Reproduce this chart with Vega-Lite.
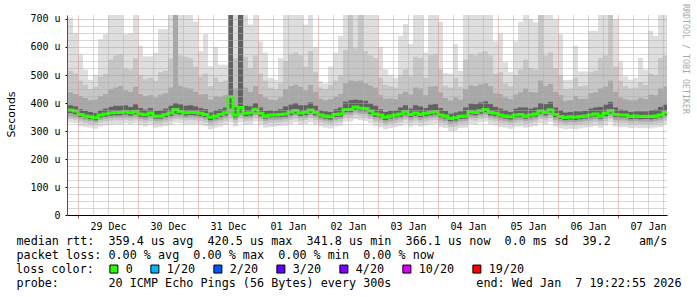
{
"$schema": "https://vega.github.io/schema/vega-lite/v6.json",
"width": 600, "height": 200,
"autosize": "none",
"padding": {"left": 67, "top": 15, "right": 30, "bottom": 82},
"background": "#ffffff",
"config": {"view": {"stroke": null}},
"title": {"text": "RRDTOOL / TOBI OETIKER", "orient": "right", "anchor": "start", "angle": 90, "offset": 1, "dx": -10, "font": "DejaVu Sans Mono", "fontSize": 8.3, "fontWeight": "normal", "color": "#a8a8a8"},
"data": {"values": [
{"t":"2025-12-28T18:00","t2":"2025-12-28T20:00","loss":"0","med":375,"a0":332,"b0":344,"c0":352,"d0":364,"d1":392,"c1":440,"b1":520,"a1":705},
{"t":"2025-12-28T20:00","t2":"2025-12-28T22:00","loss":"0","med":375,"a0":330,"b0":343,"c0":352,"d0":364,"d1":392,"c1":438,"b1":515,"a1":705},
{"t":"2025-12-28T22:00","t2":"2025-12-29T00:00","loss":"0","med":371,"a0":328,"b0":340,"c0":349,"d0":360,"d1":388,"c1":432,"b1":505,"a1":650},
{"t":"2025-12-29T00:00","t2":"2025-12-29T02:00","loss":"0","med":359,"a0":318,"b0":332,"c0":342,"d0":350,"d1":378,"c1":425,"b1":480,"a1":573},
{"t":"2025-12-29T02:00","t2":"2025-12-29T04:00","loss":"0","med":354,"a0":314,"b0":328,"c0":338,"d0":346,"d1":372,"c1":418,"b1":465,"a1":519},
{"t":"2025-12-29T04:00","t2":"2025-12-29T06:00","loss":"0","med":351,"a0":312,"b0":325,"c0":335,"d0":342,"d1":368,"c1":410,"b1":450,"a1":483},
{"t":"2025-12-29T06:00","t2":"2025-12-29T08:00","loss":"0","med":347,"a0":308,"b0":322,"c0":332,"d0":338,"d1":364,"c1":412,"b1":458,"a1":501},
{"t":"2025-12-29T08:00","t2":"2025-12-29T10:00","loss":"0","med":357,"a0":316,"b0":330,"c0":340,"d0":347,"d1":374,"c1":425,"b1":495,"a1":628},
{"t":"2025-12-29T10:00","t2":"2025-12-29T12:00","loss":"0","med":361,"a0":320,"b0":334,"c0":344,"d0":351,"d1":380,"c1":432,"b1":505,"a1":646},
{"t":"2025-12-29T12:00","t2":"2025-12-29T14:00","loss":"0","med":364,"a0":322,"b0":336,"c0":346,"d0":354,"d1":386,"c1":450,"b1":555,"a1":800},
{"t":"2025-12-29T14:00","t2":"2025-12-29T16:00","loss":"0","med":366,"a0":325,"b0":338,"c0":348,"d0":356,"d1":390,"c1":455,"b1":570,"a1":800},
{"t":"2025-12-29T16:00","t2":"2025-12-29T18:00","loss":"0","med":366,"a0":324,"b0":338,"c0":348,"d0":356,"d1":390,"c1":460,"b1":575,"a1":800},
{"t":"2025-12-29T18:00","t2":"2025-12-29T20:00","loss":"0","med":369,"a0":328,"b0":340,"c0":350,"d0":359,"d1":392,"c1":445,"b1":525,"a1":646},
{"t":"2025-12-29T20:00","t2":"2025-12-29T22:00","loss":"0","med":365,"a0":324,"b0":337,"c0":347,"d0":355,"d1":386,"c1":440,"b1":520,"a1":650},
{"t":"2025-12-29T22:00","t2":"2025-12-30T00:00","loss":"0","med":370,"a0":328,"b0":341,"c0":351,"d0":360,"d1":395,"c1":458,"b1":560,"a1":800},
{"t":"2025-12-30T00:00","t2":"2025-12-30T02:00","loss":"0","med":361,"a0":320,"b0":334,"c0":343,"d0":351,"d1":382,"c1":432,"b1":500,"a1":604},
{"t":"2025-12-30T02:00","t2":"2025-12-30T04:00","loss":"0","med":358,"a0":316,"b0":330,"c0":340,"d0":348,"d1":376,"c1":425,"b1":485,"a1":567},
{"t":"2025-12-30T04:00","t2":"2025-12-30T06:00","loss":"0","med":364,"a0":322,"b0":335,"c0":345,"d0":354,"d1":382,"c1":428,"b1":490,"a1":567},
{"t":"2025-12-30T06:00","t2":"2025-12-30T08:00","loss":"0","med":354,"a0":312,"b0":326,"c0":336,"d0":344,"d1":372,"c1":420,"b1":480,"a1":580},
{"t":"2025-12-30T08:00","t2":"2025-12-30T10:00","loss":"0","med":354,"a0":314,"b0":327,"c0":337,"d0":344,"d1":374,"c1":430,"b1":510,"a1":664},
{"t":"2025-12-30T10:00","t2":"2025-12-30T12:00","loss":"0","med":359,"a0":318,"b0":331,"c0":341,"d0":349,"d1":380,"c1":435,"b1":515,"a1":664},
{"t":"2025-12-30T12:00","t2":"2025-12-30T14:00","loss":"0","med":364,"a0":322,"b0":336,"c0":346,"d0":354,"d1":390,"c1":455,"b1":560,"a1":800},
{"t":"2025-12-30T14:00","t2":"2025-12-30T16:00","loss":"0","med":377,"a0":330,"b0":342,"c0":352,"d0":362,"d1":400,"c1":800,"b1":800,"a1":800},
{"t":"2025-12-30T16:00","t2":"2025-12-30T18:00","loss":"0","med":370,"a0":328,"b0":341,"c0":351,"d0":360,"d1":395,"c1":460,"b1":570,"a1":800},
{"t":"2025-12-30T18:00","t2":"2025-12-30T20:00","loss":"0","med":365,"a0":324,"b0":337,"c0":347,"d0":355,"d1":390,"c1":455,"b1":565,"a1":800},
{"t":"2025-12-30T20:00","t2":"2025-12-30T22:00","loss":"0","med":367,"a0":325,"b0":339,"c0":349,"d0":357,"d1":392,"c1":452,"b1":560,"a1":800},
{"t":"2025-12-30T22:00","t2":"2025-12-31T00:00","loss":"0","med":366,"a0":325,"b0":338,"c0":348,"d0":356,"d1":388,"c1":440,"b1":530,"a1":690},
{"t":"2025-12-31T00:00","t2":"2025-12-31T02:00","loss":"0","med":363,"a0":322,"b0":335,"c0":345,"d0":353,"d1":382,"c1":430,"b1":495,"a1":585},
{"t":"2025-12-31T02:00","t2":"2025-12-31T04:00","loss":"0","med":359,"a0":318,"b0":331,"c0":341,"d0":349,"d1":378,"c1":432,"b1":505,"a1":646},
{"t":"2025-12-31T04:00","t2":"2025-12-31T06:00","loss":"0","med":349,"a0":306,"b0":320,"c0":331,"d0":339,"d1":366,"c1":412,"b1":460,"a1":531},
{"t":"2025-12-31T06:00","t2":"2025-12-31T08:00","loss":"0","med":354,"a0":312,"b0":326,"c0":336,"d0":344,"d1":374,"c1":425,"b1":490,"a1":600},
{"t":"2025-12-31T08:00","t2":"2025-12-31T10:00","loss":"0","med":359,"a0":316,"b0":330,"c0":340,"d0":349,"d1":378,"c1":422,"b1":475,"a1":537},
{"t":"2025-12-31T10:00","t2":"2025-12-31T12:00","loss":"0","med":365,"a0":322,"b0":336,"c0":346,"d0":355,"d1":384,"c1":428,"b1":480,"a1":537},
{"t":"2025-12-31T12:00","t2":"2025-12-31T14:00","loss":"0","med":422,"a0":330,"b0":345,"c0":360,"d0":380,"d1":800,"c1":800,"b1":800,"a1":800},
{"t":"2025-12-31T14:00","t2":"2025-12-31T16:00","loss":"0","med":357,"a0":316,"b0":330,"c0":340,"d0":347,"d1":384,"c1":452,"b1":560,"a1":800},
{"t":"2025-12-31T16:00","t2":"2025-12-31T18:00","loss":"0","med":384,"a0":330,"b0":345,"c0":355,"d0":365,"d1":800,"c1":800,"b1":800,"a1":800},
{"t":"2025-12-31T18:00","t2":"2025-12-31T20:00","loss":"0","med":363,"a0":322,"b0":335,"c0":345,"d0":353,"d1":390,"c1":455,"b1":565,"a1":800},
{"t":"2025-12-31T20:00","t2":"2025-12-31T22:00","loss":"0","med":365,"a0":324,"b0":337,"c0":347,"d0":355,"d1":388,"c1":440,"b1":525,"a1":680},
{"t":"2025-12-31T22:00","t2":"2026-01-01T00:00","loss":"0","med":378,"a0":334,"b0":347,"c0":357,"d0":367,"d1":400,"c1":460,"b1":570,"a1":800},
{"t":"2026-01-01T00:00","t2":"2026-01-01T02:00","loss":"0","med":363,"a0":322,"b0":335,"c0":345,"d0":353,"d1":384,"c1":432,"b1":505,"a1":620},
{"t":"2026-01-01T02:00","t2":"2026-01-01T04:00","loss":"0","med":354,"a0":312,"b0":326,"c0":336,"d0":344,"d1":372,"c1":420,"b1":480,"a1":580},
{"t":"2026-01-01T04:00","t2":"2026-01-01T06:00","loss":"0","med":357,"a0":315,"b0":329,"c0":339,"d0":347,"d1":374,"c1":412,"b1":455,"a1":490},
{"t":"2026-01-01T06:00","t2":"2026-01-01T08:00","loss":"0","med":357,"a0":316,"b0":330,"c0":340,"d0":347,"d1":372,"c1":410,"b1":450,"a1":483},
{"t":"2026-01-01T08:00","t2":"2026-01-01T10:00","loss":"0","med":359,"a0":318,"b0":331,"c0":341,"d0":349,"d1":378,"c1":420,"b1":470,"a1":560},
{"t":"2026-01-01T10:00","t2":"2026-01-01T12:00","loss":"0","med":361,"a0":320,"b0":333,"c0":343,"d0":351,"d1":388,"c1":450,"b1":550,"a1":800},
{"t":"2026-01-01T12:00","t2":"2026-01-01T14:00","loss":"0","med":367,"a0":325,"b0":339,"c0":349,"d0":357,"d1":394,"c1":460,"b1":575,"a1":800},
{"t":"2026-01-01T14:00","t2":"2026-01-01T16:00","loss":"0","med":373,"a0":330,"b0":344,"c0":354,"d0":363,"d1":400,"c1":465,"b1":580,"a1":800},
{"t":"2026-01-01T16:00","t2":"2026-01-01T18:00","loss":"0","med":364,"a0":322,"b0":336,"c0":346,"d0":354,"d1":392,"c1":458,"b1":570,"a1":800},
{"t":"2026-01-01T18:00","t2":"2026-01-01T20:00","loss":"0","med":367,"a0":325,"b0":339,"c0":349,"d0":357,"d1":392,"c1":445,"b1":530,"a1":680},
{"t":"2026-01-01T20:00","t2":"2026-01-01T22:00","loss":"0","med":375,"a0":332,"b0":346,"c0":356,"d0":365,"d1":402,"c1":465,"b1":585,"a1":800},
{"t":"2026-01-01T22:00","t2":"2026-01-02T00:00","loss":"0","med":366,"a0":324,"b0":338,"c0":348,"d0":356,"d1":390,"c1":440,"b1":510,"a1":600},
{"t":"2026-01-02T00:00","t2":"2026-01-02T02:00","loss":"0","med":357,"a0":316,"b0":330,"c0":340,"d0":347,"d1":374,"c1":415,"b1":455,"a1":478},
{"t":"2026-01-02T02:00","t2":"2026-01-02T04:00","loss":"0","med":354,"a0":312,"b0":327,"c0":337,"d0":344,"d1":370,"c1":410,"b1":450,"a1":470},
{"t":"2026-01-02T04:00","t2":"2026-01-02T06:00","loss":"0","med":351,"a0":309,"b0":324,"c0":334,"d0":341,"d1":368,"c1":414,"b1":465,"a1":530},
{"t":"2026-01-02T06:00","t2":"2026-01-02T08:00","loss":"0","med":359,"a0":316,"b0":330,"c0":340,"d0":349,"d1":378,"c1":422,"b1":480,"a1":580},
{"t":"2026-01-02T08:00","t2":"2026-01-02T10:00","loss":"0","med":361,"a0":319,"b0":333,"c0":343,"d0":351,"d1":384,"c1":432,"b1":500,"a1":640},
{"t":"2026-01-02T10:00","t2":"2026-01-02T12:00","loss":"0","med":377,"a0":334,"b0":348,"c0":358,"d0":367,"d1":405,"c1":470,"b1":590,"a1":800},
{"t":"2026-01-02T12:00","t2":"2026-01-02T14:00","loss":"0","med":377,"a0":334,"b0":348,"c0":358,"d0":367,"d1":410,"c1":480,"b1":800,"a1":800},
{"t":"2026-01-02T14:00","t2":"2026-01-02T16:00","loss":"0","med":386,"a0":342,"b0":356,"c0":366,"d0":376,"d1":412,"c1":478,"b1":595,"a1":800},
{"t":"2026-01-02T16:00","t2":"2026-01-02T18:00","loss":"0","med":381,"a0":338,"b0":352,"c0":362,"d0":371,"d1":410,"c1":480,"b1":800,"a1":800},
{"t":"2026-01-02T18:00","t2":"2026-01-02T20:00","loss":"0","med":380,"a0":336,"b0":350,"c0":360,"d0":370,"d1":408,"c1":470,"b1":585,"a1":800},
{"t":"2026-01-02T20:00","t2":"2026-01-02T22:00","loss":"0","med":371,"a0":328,"b0":342,"c0":352,"d0":361,"d1":398,"c1":462,"b1":570,"a1":800},
{"t":"2026-01-02T22:00","t2":"2026-01-03T00:00","loss":"0","med":361,"a0":318,"b0":332,"c0":342,"d0":351,"d1":390,"c1":455,"b1":560,"a1":800},
{"t":"2026-01-03T00:00","t2":"2026-01-03T02:00","loss":"0","med":357,"a0":314,"b0":328,"c0":338,"d0":347,"d1":378,"c1":428,"b1":490,"a1":600},
{"t":"2026-01-03T02:00","t2":"2026-01-03T04:00","loss":"0","med":349,"a0":306,"b0":320,"c0":330,"d0":339,"d1":368,"c1":415,"b1":465,"a1":520},
{"t":"2026-01-03T04:00","t2":"2026-01-03T06:00","loss":"0","med":354,"a0":310,"b0":324,"c0":334,"d0":344,"d1":372,"c1":416,"b1":460,"a1":501},
{"t":"2026-01-03T06:00","t2":"2026-01-03T08:00","loss":"0","med":357,"a0":314,"b0":328,"c0":338,"d0":347,"d1":374,"c1":414,"b1":455,"a1":490},
{"t":"2026-01-03T08:00","t2":"2026-01-03T10:00","loss":"0","med":361,"a0":318,"b0":332,"c0":342,"d0":351,"d1":384,"c1":432,"b1":500,"a1":640},
{"t":"2026-01-03T10:00","t2":"2026-01-03T12:00","loss":"0","med":369,"a0":326,"b0":340,"c0":350,"d0":359,"d1":392,"c1":440,"b1":520,"a1":682},
{"t":"2026-01-03T12:00","t2":"2026-01-03T14:00","loss":"0","med":359,"a0":316,"b0":330,"c0":340,"d0":349,"d1":380,"c1":430,"b1":495,"a1":610},
{"t":"2026-01-03T14:00","t2":"2026-01-03T16:00","loss":"0","med":364,"a0":322,"b0":336,"c0":346,"d0":354,"d1":392,"c1":455,"b1":565,"a1":800},
{"t":"2026-01-03T16:00","t2":"2026-01-03T18:00","loss":"0","med":359,"a0":316,"b0":330,"c0":340,"d0":349,"d1":388,"c1":452,"b1":560,"a1":800},
{"t":"2026-01-03T18:00","t2":"2026-01-03T20:00","loss":"0","med":363,"a0":320,"b0":334,"c0":344,"d0":353,"d1":382,"c1":428,"b1":490,"a1":580},
{"t":"2026-01-03T20:00","t2":"2026-01-03T22:00","loss":"0","med":366,"a0":324,"b0":338,"c0":348,"d0":356,"d1":394,"c1":458,"b1":570,"a1":800},
{"t":"2026-01-03T22:00","t2":"2026-01-04T00:00","loss":"0","med":369,"a0":326,"b0":340,"c0":350,"d0":359,"d1":396,"c1":460,"b1":575,"a1":800},
{"t":"2026-01-04T00:00","t2":"2026-01-04T02:00","loss":"0","med":357,"a0":314,"b0":328,"c0":338,"d0":347,"d1":382,"c1":438,"b1":520,"a1":690},
{"t":"2026-01-04T02:00","t2":"2026-01-04T04:00","loss":"0","med":354,"a0":310,"b0":324,"c0":334,"d0":344,"d1":372,"c1":418,"b1":462,"a1":507},
{"t":"2026-01-04T04:00","t2":"2026-01-04T06:00","loss":"0","med":345,"a0":300,"b0":314,"c0":326,"d0":335,"d1":362,"c1":408,"b1":455,"a1":505},
{"t":"2026-01-04T06:00","t2":"2026-01-04T08:00","loss":"0","med":347,"a0":302,"b0":316,"c0":328,"d0":337,"d1":366,"c1":420,"b1":490,"a1":610},
{"t":"2026-01-04T08:00","t2":"2026-01-04T10:00","loss":"0","med":353,"a0":310,"b0":324,"c0":334,"d0":343,"d1":370,"c1":412,"b1":458,"a1":515},
{"t":"2026-01-04T10:00","t2":"2026-01-04T12:00","loss":"0","med":354,"a0":312,"b0":326,"c0":336,"d0":344,"d1":384,"c1":450,"b1":555,"a1":800},
{"t":"2026-01-04T12:00","t2":"2026-01-04T14:00","loss":"0","med":369,"a0":326,"b0":340,"c0":350,"d0":359,"d1":398,"c1":462,"b1":575,"a1":800},
{"t":"2026-01-04T14:00","t2":"2026-01-04T16:00","loss":"0","med":366,"a0":323,"b0":337,"c0":347,"d0":356,"d1":396,"c1":460,"b1":570,"a1":800},
{"t":"2026-01-04T16:00","t2":"2026-01-04T18:00","loss":"0","med":372,"a0":330,"b0":344,"c0":354,"d0":362,"d1":402,"c1":466,"b1":580,"a1":800},
{"t":"2026-01-04T18:00","t2":"2026-01-04T20:00","loss":"0","med":377,"a0":334,"b0":348,"c0":358,"d0":367,"d1":406,"c1":470,"b1":585,"a1":800},
{"t":"2026-01-04T20:00","t2":"2026-01-04T22:00","loss":"0","med":366,"a0":324,"b0":338,"c0":348,"d0":356,"d1":396,"c1":460,"b1":570,"a1":800},
{"t":"2026-01-04T22:00","t2":"2026-01-05T00:00","loss":"0","med":363,"a0":320,"b0":334,"c0":344,"d0":353,"d1":386,"c1":435,"b1":505,"a1":620},
{"t":"2026-01-05T00:00","t2":"2026-01-05T02:00","loss":"0","med":357,"a0":314,"b0":328,"c0":338,"d0":347,"d1":380,"c1":432,"b1":510,"a1":650},
{"t":"2026-01-05T02:00","t2":"2026-01-05T04:00","loss":"0","med":354,"a0":312,"b0":326,"c0":336,"d0":344,"d1":374,"c1":420,"b1":470,"a1":545},
{"t":"2026-01-05T04:00","t2":"2026-01-05T06:00","loss":"0","med":351,"a0":308,"b0":322,"c0":332,"d0":341,"d1":368,"c1":414,"b1":460,"a1":510},
{"t":"2026-01-05T06:00","t2":"2026-01-05T08:00","loss":"0","med":357,"a0":314,"b0":328,"c0":338,"d0":347,"d1":380,"c1":430,"b1":500,"a1":620},
{"t":"2026-01-05T08:00","t2":"2026-01-05T10:00","loss":"0","med":359,"a0":316,"b0":330,"c0":340,"d0":349,"d1":384,"c1":438,"b1":520,"a1":690},
{"t":"2026-01-05T10:00","t2":"2026-01-05T12:00","loss":"0","med":354,"a0":312,"b0":326,"c0":336,"d0":344,"d1":384,"c1":452,"b1":555,"a1":800},
{"t":"2026-01-05T12:00","t2":"2026-01-05T14:00","loss":"0","med":357,"a0":314,"b0":328,"c0":338,"d0":347,"d1":380,"c1":440,"b1":525,"a1":700},
{"t":"2026-01-05T14:00","t2":"2026-01-05T16:00","loss":"0","med":361,"a0":318,"b0":332,"c0":342,"d0":351,"d1":384,"c1":438,"b1":520,"a1":688},
{"t":"2026-01-05T16:00","t2":"2026-01-05T18:00","loss":"0","med":371,"a0":328,"b0":342,"c0":352,"d0":361,"d1":400,"c1":480,"b1":800,"a1":800},
{"t":"2026-01-05T18:00","t2":"2026-01-05T20:00","loss":"0","med":366,"a0":324,"b0":338,"c0":348,"d0":356,"d1":396,"c1":460,"b1":570,"a1":800},
{"t":"2026-01-05T20:00","t2":"2026-01-05T22:00","loss":"0","med":376,"a0":332,"b0":346,"c0":356,"d0":366,"d1":404,"c1":468,"b1":580,"a1":800},
{"t":"2026-01-05T22:00","t2":"2026-01-06T00:00","loss":"0","med":359,"a0":316,"b0":330,"c0":340,"d0":349,"d1":384,"c1":440,"b1":525,"a1":700},
{"t":"2026-01-06T00:00","t2":"2026-01-06T02:00","loss":"0","med":352,"a0":310,"b0":324,"c0":334,"d0":343,"d1":374,"c1":428,"b1":500,"a1":646},
{"t":"2026-01-06T02:00","t2":"2026-01-06T04:00","loss":"0","med":348,"a0":306,"b0":320,"c0":330,"d0":339,"d1":366,"c1":408,"b1":450,"a1":483},
{"t":"2026-01-06T04:00","t2":"2026-01-06T06:00","loss":"0","med":351,"a0":308,"b0":322,"c0":332,"d0":341,"d1":368,"c1":410,"b1":452,"a1":483},
{"t":"2026-01-06T06:00","t2":"2026-01-06T08:00","loss":"0","med":349,"a0":306,"b0":320,"c0":330,"d0":339,"d1":370,"c1":425,"b1":490,"a1":604},
{"t":"2026-01-06T08:00","t2":"2026-01-06T10:00","loss":"0","med":352,"a0":309,"b0":323,"c0":333,"d0":342,"d1":370,"c1":414,"b1":460,"a1":513},
{"t":"2026-01-06T10:00","t2":"2026-01-06T12:00","loss":"0","med":354,"a0":312,"b0":326,"c0":336,"d0":344,"d1":372,"c1":415,"b1":462,"a1":513},
{"t":"2026-01-06T12:00","t2":"2026-01-06T14:00","loss":"0","med":357,"a0":314,"b0":328,"c0":338,"d0":347,"d1":380,"c1":435,"b1":510,"a1":658},
{"t":"2026-01-06T14:00","t2":"2026-01-06T16:00","loss":"0","med":361,"a0":318,"b0":332,"c0":342,"d0":351,"d1":384,"c1":438,"b1":515,"a1":658},
{"t":"2026-01-06T16:00","t2":"2026-01-06T18:00","loss":"0","med":354,"a0":312,"b0":326,"c0":336,"d0":344,"d1":386,"c1":452,"b1":560,"a1":800},
{"t":"2026-01-06T18:00","t2":"2026-01-06T20:00","loss":"0","med":363,"a0":320,"b0":334,"c0":344,"d0":353,"d1":394,"c1":458,"b1":570,"a1":800},
{"t":"2026-01-06T20:00","t2":"2026-01-06T22:00","loss":"0","med":373,"a0":330,"b0":344,"c0":354,"d0":363,"d1":404,"c1":480,"b1":800,"a1":800},
{"t":"2026-01-06T22:00","t2":"2026-01-07T00:00","loss":"0","med":359,"a0":316,"b0":330,"c0":340,"d0":349,"d1":384,"c1":440,"b1":530,"a1":700},
{"t":"2026-01-07T00:00","t2":"2026-01-07T02:00","loss":"0","med":357,"a0":314,"b0":328,"c0":338,"d0":347,"d1":376,"c1":420,"b1":480,"a1":549},
{"t":"2026-01-07T02:00","t2":"2026-01-07T04:00","loss":"0","med":357,"a0":314,"b0":328,"c0":338,"d0":347,"d1":374,"c1":414,"b1":460,"a1":495},
{"t":"2026-01-07T04:00","t2":"2026-01-07T06:00","loss":"0","med":352,"a0":310,"b0":324,"c0":334,"d0":342,"d1":368,"c1":410,"b1":452,"a1":483},
{"t":"2026-01-07T06:00","t2":"2026-01-07T08:00","loss":"0","med":354,"a0":312,"b0":326,"c0":336,"d0":344,"d1":370,"c1":410,"b1":455,"a1":489},
{"t":"2026-01-07T08:00","t2":"2026-01-07T10:00","loss":"0","med":352,"a0":310,"b0":324,"c0":334,"d0":342,"d1":370,"c1":418,"b1":475,"a1":561},
{"t":"2026-01-07T10:00","t2":"2026-01-07T12:00","loss":"0","med":353,"a0":310,"b0":324,"c0":334,"d0":343,"d1":370,"c1":414,"b1":465,"a1":519},
{"t":"2026-01-07T12:00","t2":"2026-01-07T14:00","loss":"0","med":352,"a0":309,"b0":323,"c0":333,"d0":342,"d1":374,"c1":430,"b1":505,"a1":658},
{"t":"2026-01-07T14:00","t2":"2026-01-07T16:00","loss":"0","med":354,"a0":312,"b0":326,"c0":336,"d0":344,"d1":376,"c1":428,"b1":500,"a1":640},
{"t":"2026-01-07T16:00","t2":"2026-01-07T18:00","loss":"0","med":357,"a0":314,"b0":328,"c0":338,"d0":347,"d1":386,"c1":452,"b1":560,"a1":800},
{"t":"2026-01-07T18:00","t2":"2026-01-07T20:00","loss":"0","med":366,"a0":323,"b0":337,"c0":347,"d0":356,"d1":394,"c1":458,"b1":570,"a1":800}
]},
"layer": [
{"mark": {"type": "rect", "fill": "#dedede", "clip": true},
 "encoding": {
  "x": {"field": "t", "type": "temporal",
        "scale": {"domain": [{"year": 2025, "month": 12, "date": 28, "hours": 19, "minutes": 36}, {"year": 2026, "month": 1, "date": 7, "hours": 19, "minutes": 36}]},
        "axis": {"orient": "bottom", "tickCount": 40,
                 "grid": true, "gridColor": {"condition": {"test": "hours(datum.value) == 0", "value": "#e08888"}, "value": "#b0b0b0"}, "gridDash": [1, 1],
                 "ticks": true, "tickSize": 3, "tickColor": "#d06060", "tickOpacity": {"condition": {"test": "hours(datum.value) == 0", "value": 1}, "value": 0},
                 "labelExpr": "hours(datum.value) == 12 ? timeFormat(datum.value, '%d %b') : ''",
                 "labelFont": "DejaVu Sans Mono", "labelFontSize": 10, "labelColor": "#000000", "labelPadding": 3, "labelFlush": false, "labelOverlap": false,
                 "domain": true, "domainColor": "#000000",
                 "title": ["median\u00a0rtt:\u00a0\u00a0359.4\u00a0us\u00a0avg\u00a0\u00a0420.5\u00a0us\u00a0max\u00a0\u00a0341.8\u00a0us\u00a0min\u00a0\u00a0366.1\u00a0us\u00a0now\u00a0\u00a00.0\u00a0ms\u00a0sd\u00a0\u00a039.2\u00a0\u00a0\u00a0\u00a0am/s",
                           "packet\u00a0loss:\u00a00.00\u00a0%\u00a0avg\u00a0\u00a00.00\u00a0%\u00a0max\u00a0\u00a00.00\u00a0%\u00a0min\u00a0\u00a00.00\u00a0%\u00a0now",
                           "\u200b",
                           "probe:\u00a0\u00a0\u00a0\u00a0\u00a0\u00a0\u00a020\u00a0ICMP\u00a0Echo\u00a0Pings\u00a0(56\u00a0Bytes)\u00a0every\u00a0300s\u00a0\u00a0\u00a0\u00a0\u00a0\u00a0\u00a0\u00a0\u00a0\u00a0\u00a0\u00a0end:\u00a0Wed\u00a0Jan\u00a0\u00a07\u00a019:22:55\u00a02026"],
                 "titleFont": "DejaVu Sans Mono", "titleFontSize": 11.76, "titleFontWeight": "normal", "titleColor": "#000000", "titleX": -51, "titleY": 20, "titleAlign": "left", "titleAnchor": "start", "titleBaseline": "top", "titleLineHeight": 14, "titleLimit": 1000,
                 "zindex": 1}},
  "x2": {"field": "t2"},
  "y": {"field": "a0", "type": "quantitative", "scale": {"domain": [0, 714.2857], "nice": false},
        "axis": {"orient": "left", "tickCount": 100, "values": [0,25,50,75,100,125,150,175,200,225,250,275,300,325,350,375,400,425,450,475,500,525,550,575,600,625,650,675,700],
                 "grid": true, "gridColor": {"condition": {"test": "datum.value % 100 == 0", "value": "#e08888"}, "value": "#b0b0b0"}, "gridDash": [1, 1],
                 "labelExpr": "datum.value % 100 == 0 ? (datum.value == 0 ? '0' : datum.value + ' u') : ''",
                 "labelFont": "DejaVu Sans Mono", "labelFontSize": 10, "labelColor": "#000000", "labelPadding": 5, "labelOverlap": false,
                 "ticks": true, "tickSize": 2, "tickColor": "#000000", "tickOpacity": {"condition": {"test": "datum.value % 100 == 0", "value": 1}, "value": 0},
                 "domain": true, "domainColor": "#555555",
                 "title": "Seconds", "titleFont": "DejaVu Sans", "titleFontSize": 11, "titleFontWeight": "normal", "titleColor": "#000000", "titleX": -56, "titleY": 99, "titleAngle": -90, "titleAlign": "center", "titleBaseline": "middle",
                 "zindex": 1}},
  "y2": {"field": "a1"}
 }},
{"mark": {"type": "rect", "fill": "#c6c6c6", "clip": true},
 "encoding": {
  "x": {"field": "t", "type": "temporal"},
  "x2": {"field": "t2"},
  "y": {"field": "b0", "type": "quantitative"},
  "y2": {"field": "b1"}
 }},
{"mark": {"type": "rect", "fill": "#a8a8a8", "clip": true},
 "encoding": {
  "x": {"field": "t", "type": "temporal"},
  "x2": {"field": "t2"},
  "y": {"field": "c0", "type": "quantitative"},
  "y2": {"field": "c1"}
 }},
{"mark": {"type": "rect", "fill": "#626262", "clip": true},
 "encoding": {
  "x": {"field": "t", "type": "temporal"},
  "x2": {"field": "t2"},
  "y": {"field": "d0", "type": "quantitative"},
  "y2": {"field": "d1"}
 }},
{"mark": {"type": "line", "interpolate": "step-before", "strokeWidth": 3, "color": "#26ff00", "clip": true},
 "encoding": {
  "x": {"field": "t2", "type": "temporal"},
  "y": {"field": "med", "type": "quantitative"}
 }},
{"mark": {"type": "rect", "clip": true},
 "encoding": {
  "x": {"field": "t", "type": "temporal"},
  "x2": {"field": "t2"},
  "y": {"field": "med", "type": "quantitative"},
  "y2": {"field": "med"},
  "color": {"field": "loss", "type": "nominal",
            "scale": {"domain": ["0", "1/20", "2/20", "3/20", "4/20", "10/20", "19/20"], "range": ["#26ff00", "#00b8ff", "#0059ff", "#5e00ff", "#7e00ff", "#dd00ff", "#ff0000"]},
            "legend": {"orient": "none", "legendX": -51, "legendY": 248, "direction": "horizontal", "gridAlign": "each",
                       "title": "loss color:", "titleOrient": "left", "titleFont": "DejaVu Sans Mono", "titleFontSize": 11.76, "titleFontWeight": "normal", "titleColor": "#000000", "titlePadding": 14,
                       "labelFont": "DejaVu Sans Mono", "labelFontSize": 11.76, "labelColor": "#000000", "labelOffset": 6, "columnPadding": 15,
                       "symbolType": "square", "symbolSize": 64, "symbolStrokeWidth": 1, "symbolStrokeColor": "#000000"}}
 }}
]
}
